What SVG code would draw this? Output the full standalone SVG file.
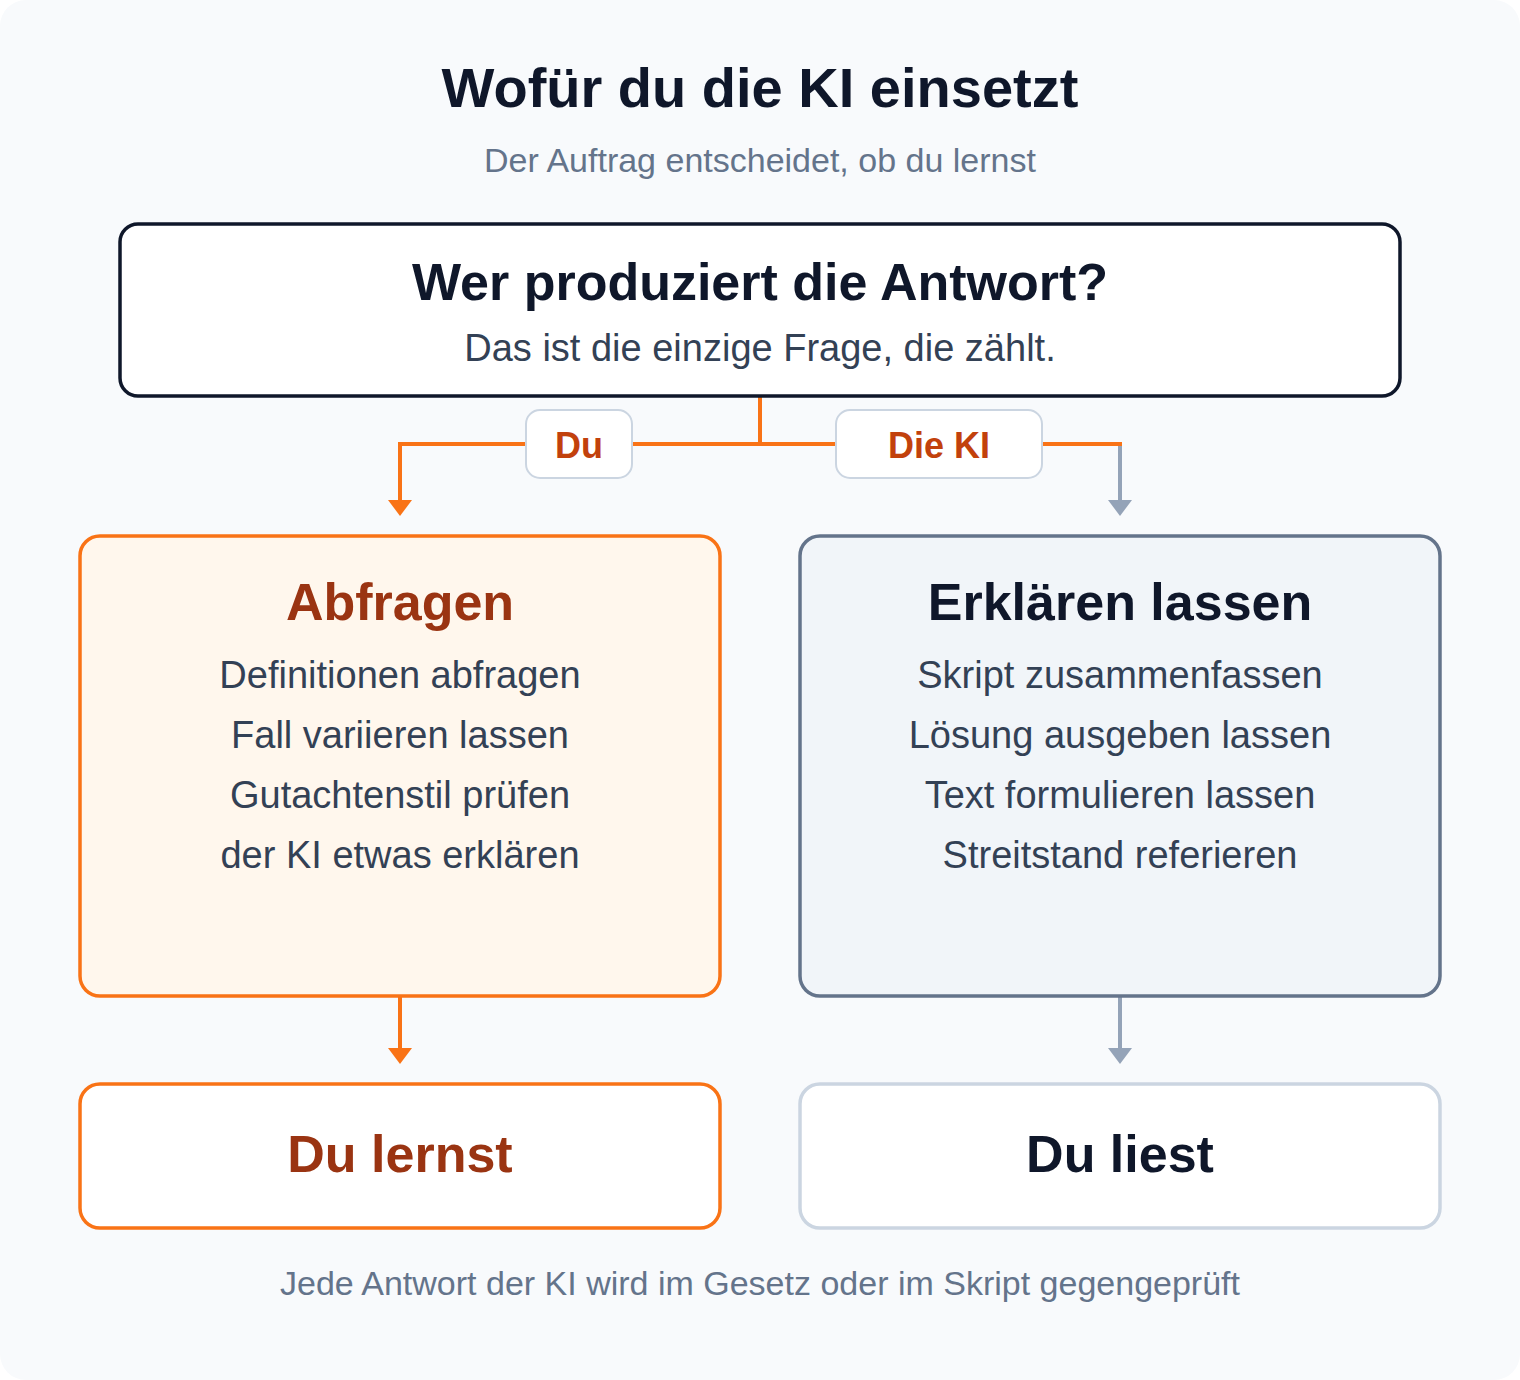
<svg xmlns="http://www.w3.org/2000/svg" width="1520" height="1380" viewBox="0 0 1520 1380">
<defs>
<style>
text{font-family:"Liberation Sans",Arial,sans-serif;text-anchor:middle}
.title{font-size:56px;font-weight:700;fill:#0f172a}
.sub{font-size:34px;fill:#64748b}
.h{font-size:52px;font-weight:700}
.body{font-size:38px;fill:#334155}
.lbl{font-size:36px;font-weight:700;fill:#c2410c}
.or{stroke:#f97316;stroke-width:4;fill:none}
.gr{stroke:#94a3b8;stroke-width:4;fill:none}
</style>
</defs>
<rect x="0" y="0" width="1520" height="1380" fill="#ffffff"/>
<rect x="0" y="0" width="1520" height="1380" rx="26" fill="#f8fafc"/>
<text class="title" x="760" y="107">Wofür du die KI einsetzt</text>
<text class="sub" x="760" y="172">Der Auftrag entscheidet, ob du lernst</text>

<g id="connectors">
<path class="or" d="M760,396 V444"/>
<path class="or" d="M400,444 H1122"/>
<path class="or" d="M400,442 V502"/>
<path d="M388,500 L412,500 L400,516 Z" fill="#f97316"/>
<path class="gr" d="M1120,446 V502"/>
<path d="M1108,500 L1132,500 L1120,516 Z" fill="#94a3b8"/>
<path class="or" d="M400,996 V1050"/>
<path d="M388,1048 L412,1048 L400,1064 Z" fill="#f97316"/>
<path class="gr" d="M1120,996 V1050"/>
<path d="M1108,1048 L1132,1048 L1120,1064 Z" fill="#94a3b8"/>
<g id="label-du">
<rect x="526" y="410" width="106" height="68" rx="14" fill="#ffffff" stroke="#cbd5e1" stroke-width="2"/>
<text class="lbl" x="579" y="458">Du</text>
</g>
<g id="label-ki">
<rect x="836" y="410" width="206" height="68" rx="14" fill="#ffffff" stroke="#cbd5e1" stroke-width="2"/>
<text class="lbl" x="939" y="458">Die KI</text>
</g>
</g>

<g id="question">
<rect x="120" y="224" width="1280" height="172" rx="18" fill="#ffffff" stroke="#0f172a" stroke-width="3.5"/>
<text class="h" x="760" y="300" fill="#0f172a">Wer produziert die Antwort?</text>
<text x="760" y="361" style="font-size:38px;fill:#334155">Das ist die einzige Frage, die zählt.</text>
</g>

<g id="abfragen">
<rect x="80" y="536" width="640" height="460" rx="20" fill="#fff7ed" stroke="#f97316" stroke-width="3.5"/>
<text class="h" x="400" y="620" fill="#9a3412">Abfragen</text>
<text class="body" x="400" y="688">Definitionen abfragen</text>
<text class="body" x="400" y="748">Fall variieren lassen</text>
<text class="body" x="400" y="808">Gutachtenstil prüfen</text>
<text class="body" x="400" y="868">der KI etwas erklären</text>
</g>

<g id="erklaeren">
<rect x="800" y="536" width="640" height="460" rx="20" fill="#f1f5f9" stroke="#64748b" stroke-width="3.5"/>
<text class="h" x="1120" y="620" fill="#0f172a">Erklären lassen</text>
<text class="body" x="1120" y="688">Skript zusammenfassen</text>
<text class="body" x="1120" y="748">Lösung ausgeben lassen</text>
<text class="body" x="1120" y="808">Text formulieren lassen</text>
<text class="body" x="1120" y="868">Streitstand referieren</text>
</g>

<g id="du-lernst">
<rect x="80" y="1084" width="640" height="144" rx="20" fill="#ffffff" stroke="#f97316" stroke-width="3.5"/>
<text class="h" x="400" y="1172" fill="#9a3412">Du lernst</text>
</g>

<g id="du-liest">
<rect x="800" y="1084" width="640" height="144" rx="20" fill="#ffffff" stroke="#cbd5e1" stroke-width="3.5"/>
<text class="h" x="1120" y="1172" fill="#0f172a">Du liest</text>
</g>

<text class="sub" x="760" y="1295">Jede Antwort der KI wird im Gesetz oder im Skript gegengeprüft</text>
</svg>
